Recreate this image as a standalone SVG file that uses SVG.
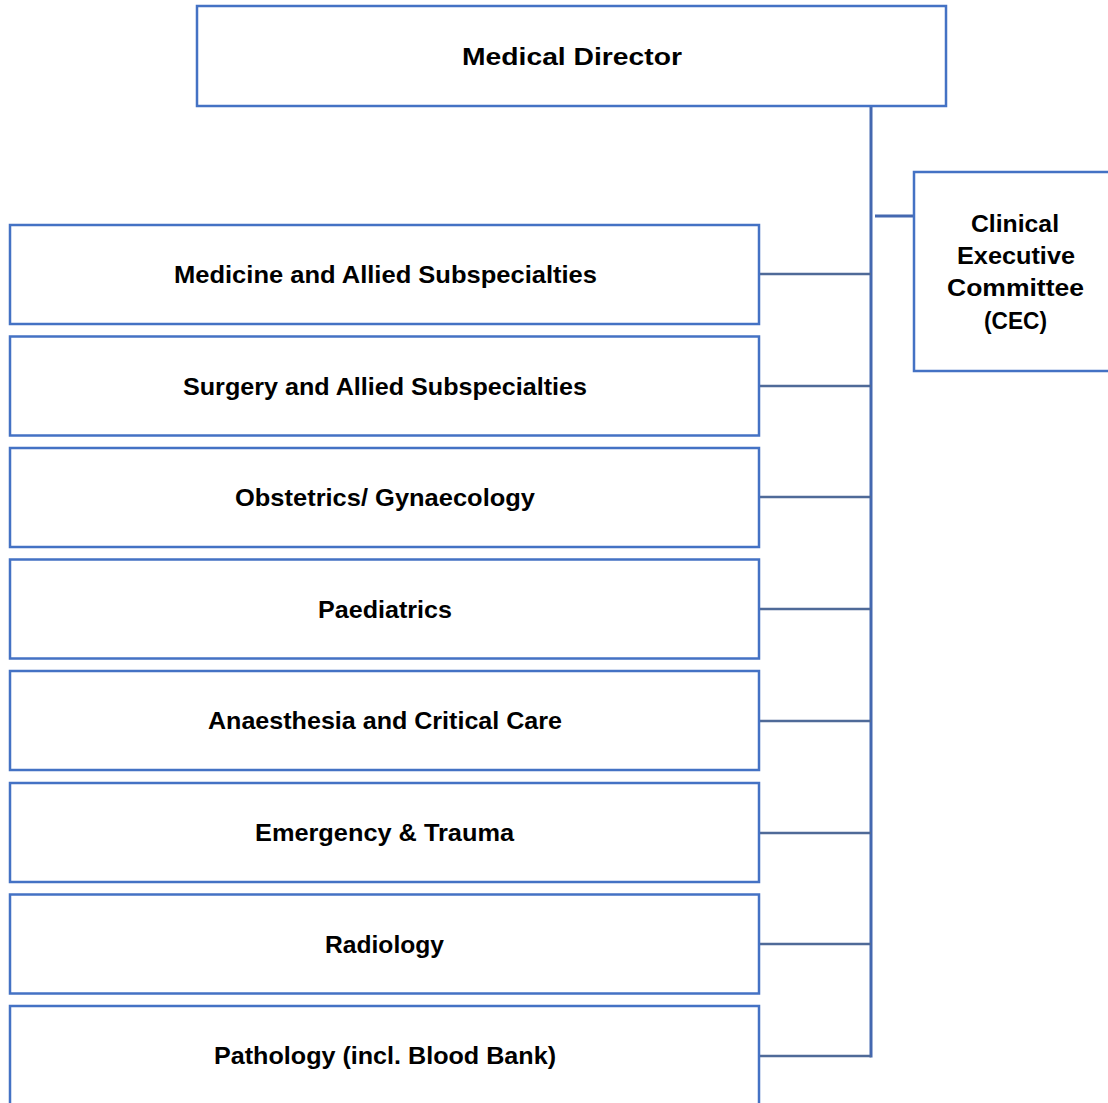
<svg xmlns="http://www.w3.org/2000/svg" width="1108" height="1103" viewBox="0 0 1108 1103">
<style>
.box{fill:#fff;stroke:#4472C4;stroke-width:2.5}
.t{font-family:"Liberation Sans",Arial,sans-serif;font-weight:bold;font-size:24px;fill:#000;text-anchor:middle}
.conn{stroke:#4F6A98;stroke-width:2.5;fill:none}
.trunk{stroke:#4468B0;stroke-width:3;fill:none}
</style>
<rect width="1108" height="1103" fill="#fff"/>
<g id="connectors">
<line class="trunk" x1="871" y1="106" x2="871" y2="1057.5"/>
<line class="trunk" x1="875" y1="216" x2="914" y2="216"/>
<line class="conn" x1="759" y1="274" x2="871" y2="274"/>
<line class="conn" x1="759" y1="386" x2="871" y2="386"/>
<line class="conn" x1="759" y1="497" x2="871" y2="497"/>
<line class="conn" x1="759" y1="609" x2="871" y2="609"/>
<line class="conn" x1="759" y1="721" x2="871" y2="721"/>
<line class="conn" x1="759" y1="833" x2="871" y2="833"/>
<line class="conn" x1="759" y1="944" x2="871" y2="944"/>
<line class="conn" x1="759" y1="1056" x2="871" y2="1056"/>
</g>
<g id="medical-director">
<rect class="box" x="197" y="6" width="749" height="100"/>
<text class="t" x="572" y="64.5" textLength="220" lengthAdjust="spacingAndGlyphs">Medical Director</text>
</g>
<g id="cec">
<rect class="box" x="914" y="172" width="200" height="199"/>
<text class="t" x="1015" y="232" textLength="88" lengthAdjust="spacingAndGlyphs">Clinical</text>
<text class="t" x="1016" y="264" textLength="118" lengthAdjust="spacingAndGlyphs">Executive</text>
<text class="t" x="1015.5" y="296" textLength="137" lengthAdjust="spacingAndGlyphs">Committee</text>
<text class="t" x="1015.5" y="329" textLength="63" lengthAdjust="spacingAndGlyphs">(CEC)</text>
</g>
<g id="medicine">
<rect class="box" x="10" y="225" width="749" height="99"/>
<text class="t" x="385.5" y="283" textLength="423" lengthAdjust="spacingAndGlyphs">Medicine and Allied Subspecialties</text>
</g>
<g id="surgery">
<rect class="box" x="10" y="336.5" width="749" height="99"/>
<text class="t" x="385" y="394.5" textLength="404" lengthAdjust="spacingAndGlyphs">Surgery and Allied Subspecialties</text>
</g>
<g id="obstetrics">
<rect class="box" x="10" y="448" width="749" height="99"/>
<text class="t" x="385" y="506" textLength="300" lengthAdjust="spacingAndGlyphs">Obstetrics/ Gynaecology</text>
</g>
<g id="paediatrics">
<rect class="box" x="10" y="559.5" width="749" height="99"/>
<text class="t" x="385" y="617.5" textLength="134" lengthAdjust="spacingAndGlyphs">Paediatrics</text>
</g>
<g id="anaesthesia">
<rect class="box" x="10" y="671" width="749" height="99"/>
<text class="t" x="385" y="729" textLength="354" lengthAdjust="spacingAndGlyphs">Anaesthesia and Critical Care</text>
</g>
<g id="emergency">
<rect class="box" x="10" y="783" width="749" height="99"/>
<text class="t" x="384.5" y="841" textLength="259" lengthAdjust="spacingAndGlyphs">Emergency &amp; Trauma</text>
</g>
<g id="radiology">
<rect class="box" x="10" y="894.5" width="749" height="99"/>
<text class="t" x="384.5" y="952.5" textLength="119" lengthAdjust="spacingAndGlyphs">Radiology</text>
</g>
<g id="pathology">
<rect class="box" x="10" y="1006" width="749" height="110"/>
<text class="t" x="385" y="1064" textLength="342" lengthAdjust="spacingAndGlyphs">Pathology (incl. Blood Bank)</text>
</g>
</svg>
